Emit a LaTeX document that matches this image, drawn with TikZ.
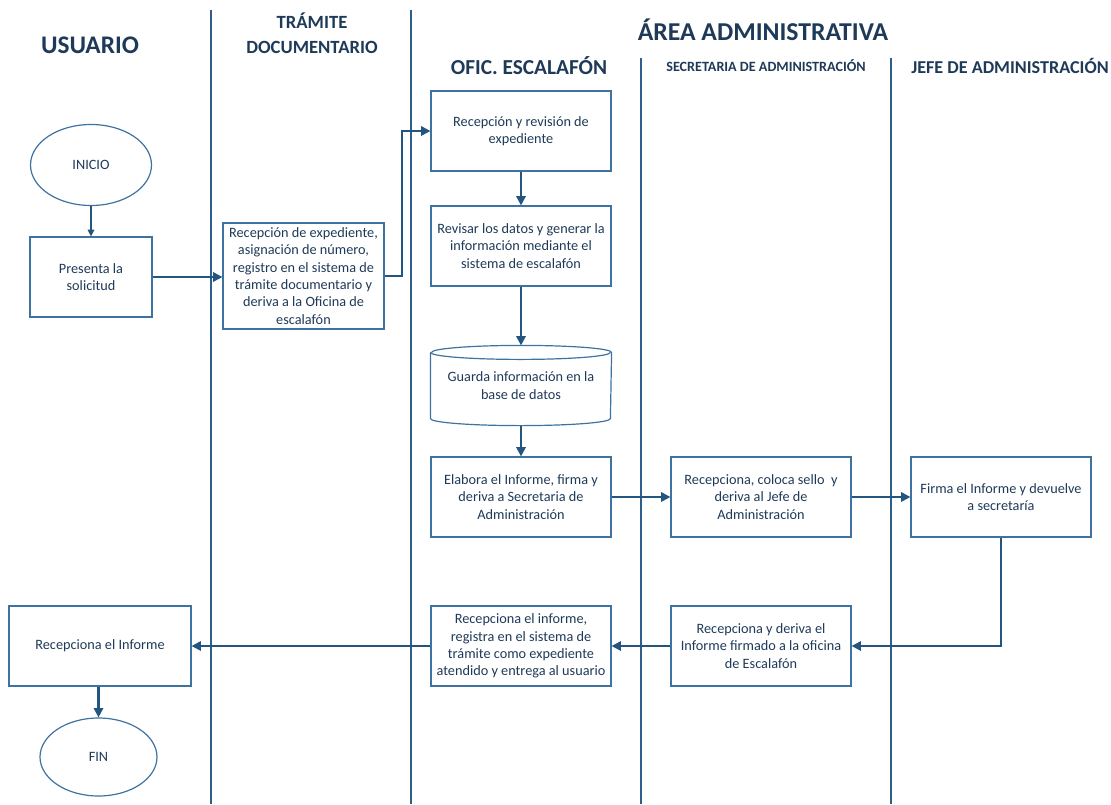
\documentclass[tikz,border=0pt]{standalone}
\usepackage{fontspec}
\setmainfont{Carlito}
\usetikzlibrary{arrows.meta,shapes.geometric}
\definecolor{txt}{HTML}{1E3A58}
\definecolor{brd}{HTML}{3E72A0}
\definecolor{arr}{HTML}{22557F}
\definecolor{lanec}{HTML}{2F5E8A}
\begin{document}
\begin{tikzpicture}[x=0.75pt,y=-0.75pt,
  box/.style={draw=brd,line width=0.9pt,rectangle,align=center,
    font=\fontsize{10.7}{13}\selectfont,text=txt,inner sep=2pt,
    minimum width=135pt,minimum height=60pt},
  term/.style={draw=brd,line width=0.9pt,ellipse,align=center,
    font=\fontsize{10.7}{13}\selectfont,text=txt,inner sep=0pt},
  flow/.style={draw=arr,line width=1.6pt,-{Triangle[length=7pt,width=7pt]}},
  thinflow/.style={draw=arr,line width=0.8pt,-{Triangle[length=5pt,width=5pt]}},
  lane/.style={draw=lanec,line width=0.8pt},
  hdr/.style={text=txt,font=\bfseries\fontsize{#1}{#1}\selectfont}]
\useasboundingbox (0,0) rectangle (1111,804);

% lanes
\draw[lane] (211,10) -- (211,804);
\draw[lane] (411,10) -- (411,804);
\draw[lane] (641,58) -- (641,804);
\draw[lane] (891,58) -- (891,804);

% headers
\node[hdr=19] (h1) at (90,45) {USUARIO};
\node[hdr=14,anchor=base] (h2a) at (312,28) {TRÁMITE};
\node[hdr=14,anchor=base] (h2b) at (312,53) {DOCUMENTARIO};
\node[hdr=19.3] (h3) at (763,30) {ÁREA ADMINISTRATIVA};
\node[hdr=16] (h4) at (529,66) {OFIC. ESCALAFÓN};
\node[hdr=10.6] (h5) at (766,66) {SECRETARIA DE ADMINISTRACIÓN};
\node[hdr=13.6] (h6) at (1010,66) {JEFE DE ADMINISTRACIÓN};

% nodes
\node[term,minimum width=90.75pt,minimum height=60.75pt] (ini) at (91,165) {INICIO};
\node[box,minimum width=91.5pt] (pres) at (91,277) {Presenta la\\solicitud};
\node[box,minimum width=120.75pt,minimum height=79.5pt] (rec) at (303.5,276) {Recepción de expediente,\\asignación de número,\\registro en el sistema de\\trámite documentario y\\deriva a la Oficina de\\escalafón};
\node[box] (rev) at (521,131) {Recepción y revisión de\\expediente};
\node[box] (dat) at (521,246) {Revisar los datos y generar la\\información mediante el\\sistema de escalafón};
\node[box,draw=none,minimum height=59.25pt] (db) at (521,385.5) {Guarda información en la\\base de datos};
\draw[brd,line width=0.9pt] ([yshift=-5.25pt]db.north west) -- ([yshift=5.25pt]db.south west)
  arc[start angle=180,end angle=360,x radius=67.5pt,y radius=5.25pt]
  -- ([yshift=-5.25pt]db.north east)
  arc[start angle=0,end angle=180,x radius=67.5pt,y radius=5.25pt];
\draw[brd,line width=0.9pt] ([yshift=-5.25pt]db.north west)
  arc[start angle=180,end angle=360,x radius=67.5pt,y radius=5.25pt];
\node[box] (ela) at (521,497) {Elabora el Informe, firma y\\deriva a Secretaria de\\Administración};
\node[box] (sel) at (761,497) {Recepciona, coloca sello\ \ y\\deriva al Jefe de\\Administración};
\node[box] (fir) at (1001,497) {Firma el Informe y devuelve\\a secretaría};
\node[box] (der) at (761,646) {Recepciona y deriva el\\Informe firmado a la oficina\\de Escalafón};
\node[box] (reg) at (521,646) {Recepciona el informe,\\registra en el sistema de\\trámite como expediente\\atendido y entrega al usuario};
\node[box,minimum width=136.5pt] (usr) at (100,646) {Recepciona el Informe};
\node[term,minimum width=87.75pt,minimum height=58.5pt] (fin) at (98.5,757) {FIN};

% connectors
\draw[thinflow] (ini) -- (pres);
\draw[flow] (pres.east) -- (rec.west |- pres.east);
\draw[flow] (rec.east) -- ([xshift=12.75pt]rec.east) |- (rev.west);
\draw[flow] (rev) -- (dat);
\draw[flow] (dat) -- (db);
\draw[flow] (db) -- (ela);
\draw[flow] (ela) -- (sel);
\draw[flow] (sel) -- (fir);
\draw[flow] (fir.south) |- (der.east);
\draw[flow] (der) -- (reg);
\draw[flow] (reg) -- (usr);
\draw[flow] (usr.south -| fin.north) -- (fin.north);
\end{tikzpicture}
\end{document}
